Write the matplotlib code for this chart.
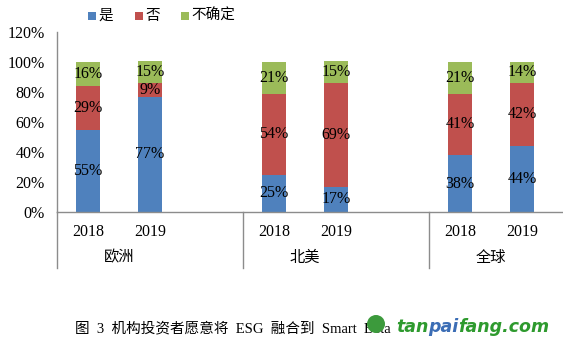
import matplotlib.pyplot as plt
from matplotlib.patches import Rectangle, Ellipse
import matplotlib.transforms as mtransforms

plt.rcParams['font.serif'] = ['Liberation Serif', 'DejaVu Serif']
plt.rcParams['font.family'] = ['serif']

groups = ['欧洲', '北美', '全球']
years = ['2018', '2019']
series = ['是', '否', '不确定']
yes = [55, 77, 25, 17, 38, 44]
no = [29, 9, 54, 69, 41, 42]
unsure = [16, 15, 21, 15, 21, 14]
colors = ['#4F81BD', '#C0504D', '#9BBB59']
caption = '图  3  机构投资者愿意将  ESG  融合到  Smart  Beta'

W, H = 563, 349

# each group gets three slots, the third one stays empty
xpos = []
for g in range(len(groups)):
    for j in range(len(years)):
        xpos.append(g * 3 + j)

fig = plt.figure(figsize=(W / 100, H / 100), dpi=100)
ax = fig.add_axes([57 / W, 1 - 212 / H, 1 - 57 / W, 180 / H])

bottom = [0] * len(xpos)
for vals, c in zip([yes, no, unsure], colors):
    ax.bar(xpos, vals, width=0.4, bottom=bottom, color=c, zorder=2)
    for x, b, v in zip(xpos, bottom, vals):
        ax.text(x, b + v / 2, f'{v}%', ha='center', va='center',
                fontsize=11.5, color='black', zorder=3)
    bottom = [b + v for b, v in zip(bottom, vals)]

ax.set_ylim(0, 120)
ax.set_yticks(range(0, 121, 20))
ax.set_yticklabels([f'{v}%' for v in range(0, 121, 20)], fontsize=11.5)
ax.tick_params(axis='y', length=0, pad=9)
ax.set_xlim(-0.5, -0.5 + (W - 57) / 62)
ax.set_xticks(xpos)
ax.set_xticklabels(years * len(groups), fontsize=11.5)
ax.tick_params(axis='x', length=0, pad=9)

for s in ['top', 'right']:
    ax.spines[s].set_visible(False)
for s in ['left', 'bottom']:
    ax.spines[s].set_color('#8C8C8C')
    ax.spines[s].set_linewidth(1)

trans = mtransforms.blended_transform_factory(ax.transData, ax.transAxes)
for g in range(len(groups) + 1):
    ax.plot([g * 3 - 0.5] * 2, [0, -56 / 180], transform=trans,
            color='#8C8C8C', lw=1, clip_on=False)
for g, name in enumerate(groups):
    ax.text(g * 3 + 0.5, -45 / 180, name, transform=trans, ha='center',
            va='center', fontsize=11, family=['Noto Sans CJK SC'])

# legend drawn by hand, Excel style
leg_x = [88, 135, 181]
for lx, c, s in zip(leg_x, colors, series):
    fig.patches.append(Rectangle((lx / W, 1 - 20 / H), 8 / W, 8 / H,
                                 facecolor=c, transform=fig.transFigure))
    fig.text((lx + 10) / W, 1 - 16 / H, s, ha='left', va='center',
             fontsize=10.5, family=['Noto Sans CJK SC'])

fig.text(75 / W, 1 - 328 / H, caption, ha='left', va='center',
         fontsize=10.5, family=['Liberation Serif', 'Noto Sans CJK SC'])

# site watermark over the caption
fig.patches.append(Ellipse((376 / W, 1 - 324 / H), 18 / W, 18 / H,
                           facecolor='#3C9A3C', transform=fig.transFigure,
                           zorder=5))
renderer = fig.canvas.get_renderer()
wx = 396
for part, c in [('tan', '#2E9A2E'), ('pai', '#3B6DB5'), ('fang.com', '#2E9A2E')]:
    t = fig.text(wx / W, 1 - 327 / H, part, ha='left', va='center',
                 fontsize=12.5, fontweight='bold', style='italic', color=c,
                 family=['DejaVu Sans'], zorder=6)
    wx += t.get_window_extent(renderer).width

fig.savefig('out.png', dpi=100)
